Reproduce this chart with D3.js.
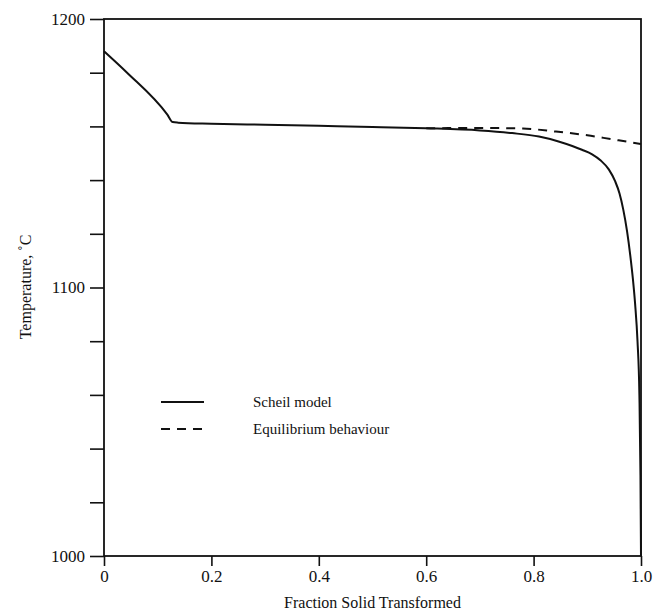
<!DOCTYPE html>
<html>
<head>
<meta charset="utf-8">
<script src="https://cdn.jsdelivr.net/npm/d3@7"></script>
<style>
  body { margin: 0; background: #fff; }
  svg { display: block; }
  text { font-family: "Liberation Serif", "Times New Roman", serif; fill: #111; }
</style>
</head>
<body>
<svg width="661" height="613" viewBox="0 0 661 613"></svg>
<script>
// data
var scheilFrac = [0, 0.043, 0.118, 0.128, 0.138, 0.2, 0.3, 0.4, 0.5, 0.6, 0.7, 0.76, 0.81, 0.848, 0.872, 0.89, 0.909, 0.925, 0.94, 0.952, 0.96, 0.967, 0.974, 0.98, 0.985, 0.989, 0.9935, 0.997, 0.999, 1.0];
var scheilTemp = [1188, 1180, 1164.4, 1161.6, 1161.4, 1161, 1160.6, 1160.2, 1159.8, 1159.3, 1158.5, 1157.5, 1156.2, 1154.3, 1152.7, 1151.3, 1149.6, 1147.3, 1144, 1139.5, 1135, 1129, 1121, 1112, 1103, 1094, 1080, 1060, 1030, 1000];
var equilFrac = [0.6, 0.7, 0.78, 0.84, 0.9, 0.946, 0.98, 1.0];
var equilTemp = [1159.3, 1159.4, 1159.2, 1158.1, 1156.7, 1155.2, 1154.1, 1153.4];
var xTicks = [0, 0.2, 0.4, 0.6, 0.8, 1.0];
var xTickLabels = ["0", "0.2", "0.4", "0.6", "0.8", "1.0"];
var yTicks = [1000, 1020, 1040, 1060, 1080, 1100, 1120, 1140, 1160, 1180, 1200];
var yLabelled = [1000, 1100, 1200];
var legendNames = ["Scheil model", "Equilibrium behaviour"];

var serif = '"Liberation Serif", "Times New Roman", serif';

var canvas = d3.select("svg");

var x = d3.scaleLinear().domain([0, 1]).range([104, 641]);
var y = d3.scaleLinear().domain([1000, 1200]).range([556, 19]);

// frame
canvas.append("rect")
    .attr("x", x(0)).attr("y", y(1200))
    .attr("width", x(1) - x(0)).attr("height", y(1000) - y(1200))
    .style("fill", "none").style("stroke", "#111").style("stroke-width", 1.8);

// x axis
var xAxis = d3.axisBottom(x)
    .tickValues(xTicks)
    .tickSize(10)
    .tickFormat(function(d, i) { return xTickLabels[i]; });
var gx = canvas.append("g").attr("transform", "translate(0," + y(1000) + ")").call(xAxis);
gx.attr("font-family", null);
gx.select(".domain").remove();
gx.selectAll(".tick line").style("stroke", "#111").style("stroke-width", 1.6);
gx.selectAll(".tick text")
    .attr("y", 14)
    .style("font-family", serif)
    .style("font-size", "17px")
    .style("fill", "#111");

// y axis
var yAxis = d3.axisLeft(y)
    .tickValues(yTicks)
    .tickSize(14)
    .tickFormat(function(d) { return yLabelled.indexOf(d) >= 0 ? d : ""; });
var gy = canvas.append("g").attr("transform", "translate(" + x(0) + ",0)").call(yAxis);
gy.attr("font-family", null);
gy.select(".domain").remove();
gy.selectAll(".tick line").style("stroke", "#111").style("stroke-width", 1.6);
gy.selectAll(".tick text")
    .attr("x", -19)
    .style("font-family", serif)
    .style("font-size", "17px")
    .style("fill", "#111");

// axis titles
canvas.append("text")
    .attr("x", (x(0) + x(1)) / 2)
    .attr("y", 608)
    .attr("text-anchor", "middle")
    .style("font-family", serif)
    .style("font-size", "16px")
    .text("Fraction Solid Transformed");

canvas.append("text")
    .attr("transform", "translate(31," + 287 + ") rotate(-90)")
    .attr("text-anchor", "middle")
    .style("font-family", serif)
    .style("font-size", "16px")
    .text("Temperature, \u02DAC");

// curves
var line = d3.line()
    .x(function(d) { return x(d[0]); })
    .y(function(d) { return y(d[1]); })
    .curve(d3.curveMonotoneX);

var scheil = scheilFrac.map(function(f, i) { return [f, scheilTemp[i]]; });
var equil = equilFrac.map(function(f, i) { return [f, equilTemp[i]]; });

canvas.append("path")
    .attr("d", line(equil))
    .style("fill", "none").style("stroke", "#111")
    .style("stroke-width", 2).style("stroke-dasharray", "9,7");

canvas.append("path")
    .attr("d", line(scheil))
    .style("fill", "none").style("stroke", "#111")
    .style("stroke-width", 2).style("stroke-linejoin", "round");

// legend
var legendY = [402, 429];
legendNames.forEach(function(name, i) {
    canvas.append("line")
        .attr("x1", 161).attr("x2", 204)
        .attr("y1", legendY[i]).attr("y2", legendY[i])
        .style("stroke", "#111").style("stroke-width", 1.8)
        .style("stroke-dasharray", i == 1 ? "9,7" : null);
    canvas.append("text")
        .attr("x", 253).attr("y", legendY[i] + 5)
        .style("font-family", serif)
        .style("font-size", "15px")
        .text(name);
});
</script>
</body>
</html>
